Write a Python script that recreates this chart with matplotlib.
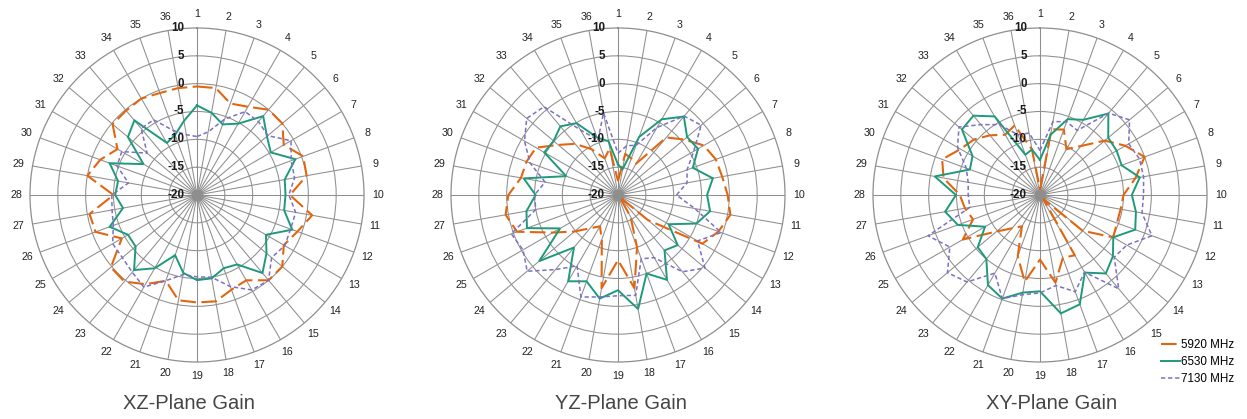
import numpy as np
import matplotlib
matplotlib.use('Agg')
import matplotlib.pyplot as plt
from matplotlib.transforms import offset_copy
from matplotlib.lines import Line2D

plt.rcParams['font.family'] = ['Liberation Sans', 'DejaVu Sans']

# 36 measurement positions, clockwise from the top
positions = list(range(1, 37))
titles = ['XZ-Plane Gain', 'YZ-Plane Gain', 'XY-Plane Gain']
series_names = ['5920 MHz', '6530 MHz', '7130 MHz']

# gain values (dB) per position
xz_5920 = [-0.5, -0.5, -2.5, -1.7, 0, 0, -2, 0.3, 0, -3.3, 1, -0.8, -2, 0, 0, -2.3, -1.9, -0.6,
           -0.7, -0.8, -3.6, -1.5, 0.3, 0.2, -4.4, -0.6, -0.4, -5, 0, -1.5, -3.5, -0.2, -0.2, 0, -0.5, -0.5]
xz_6530 = [-3.9, -5.0, -6.5, -5.2, -1.5, -3.6, -4.7, -1.2, -4.0, -4.1, -4.1, -1.8, -5.7, -3.7, -1.7, -5.6, -6.0, -4.8,
           -4.7, -5.8, -8.5, -4.8, -2.4, -5.6, -5.7, -3.3, -6.5, -5.3, -5.6, -3.3, -8.9, -3.8, -2.5, -9.2, -8.5, -6.5]
xz_7130 = [-9.5, -8.5, -5.5, -2.7, -2.8, -3.4, -0.5, -2.0, -2.2, -3.5, -2.0, -2.1, -1.8, -2.5, 0, -0.3, -2.5, -5.0,
           -5.3, -5.5, -3.6, -0.9, -1.9, -2.5, -2.5, -4.0, -4.5, -4.7, -7.5, -4.7, -4.4, -8.3, -4.4, -4.4, -7.7, -9.0]

yz_5920 = [-17.5, -12.5, -13, -13.5, -6.5, -4.5, -2.2, -1.3, -1, -0.3, 0.5, -0.8, -2.5, -13, -19.5, -15.5, -10, -3,
           -8.3, -3, -11.5, -13.5, -12.2, -9.8, -6.5, -0.7, 0.5, -0.3, -2.3, -2.5, -3, -6, -8, -10.5, -13, -11.5]
yz_6530 = [-14.5, -15.3, -8.9, -4.3, -1.6, -3.8, -3.4, -5.7, -2.7, -4.0, -3.2, -5.0, -9.5, -6.0, -7.0, -2.4, -5.0, 0.8,
           -2.9, -1.1, -3.5, -2.1, -7.7, -1.5, -8.0, -2.6, -3.3, -5.2, -2.8, -10.1, -4.7, -4.9, -3.9, -5.1, -9.0, -10.2]
yz_7130 = [-12.5, -11, -10.5, -6, -1.5, -0.5, -4.3, -6.8, -7.4, -9.5, -6, -0.3, -3.5, 0.4, -2, -7, -7.8, -1.7,
           -1.9, -1.4, -0.5, -5.3, -2.5, 1.3, -0.3, 0.4, -5, -5, -6.7, -3.2, -0.6, 1.4, 0.7, -6.5, -9.5, -5]

xy_5920 = [-19, -8, -7.5, -10.5, -8.5, -4.8, -2.3, 0, -2.6, -5, -5.3, -5.3, -4.8, -10, -19, -7.5, -8, -4,
           -8.4, -4.2, -8.3, -13.5, -12.2, -9.8, -4, -7.2, -6.3, -5.6, -2.4, -1.3, -3.5, -4.5, -6, -7.5, -6.7, -11.7]
xy_6530 = [-13.7, -9.0, -5.5, -4.4, -0.9, -4.0, -4.1, -4.4, -1.8, -3.5, -2.5, -1.8, -4.8, -2.9, -1.6, -3.9, 0.9, 1.6,
           -2.7, -2.2, -0.2, -1.3, -5.0, -5.4, -8.6, -4.3, -2.7, -4.9, -0.8, -6.6, -6.0, -1.7, -1.4, -3.7, -12.3, -11.7]
xy_7130 = [-12, -6.6, -6, -6.6, -0.8, 1, -1.6, -1, -1.1, -1.4, -1.4, 1.4, -2, -2.6, 2, -4, -1.5, -3.5,
           -2.4, -1.8, -0.2, -3.8, 0.4, 1.7, -1.3, 1.4, -7.2, -7.1, -6.9, -5.9, -2.9, -1, -3.5, -5.4, -8.5, -8.7]

r_ticks = [-20, -15, -10, -5, 0, 5, 10]

planes = [
    [xz_5920, xz_6530, xz_7130],
    [yz_5920, yz_6530, yz_7130],
    [xy_5920, xy_6530, xy_7130],
]

#Styles
colors = ['#E2660F', '#1E9A7A', '#7B70C4']
styles = [dict(lw=1.5, dashes=(7.5, 2.6)),
          dict(lw=1.4),
          dict(lw=1.1, dashes=(2.8, 1.8))]
grid_col = '#8e8e8e'

W, H = 1247, 419
fig = plt.figure(figsize=(W / 100, H / 100), dpi=100)

centers = [(197, 195), (618, 195), (1040, 195)]
title_x = [189, 621, 1052]
R = 167

theta = np.deg2rad(np.arange(36) * 10)

for k, (cx, cy) in enumerate(centers):
    ax = fig.add_axes([(cx - R) / W, (H - cy - R) / H, 2 * R / W, 2 * R / H], projection='polar')
    ax.set_theta_zero_location('N')
    ax.set_theta_direction(-1)
    ax.set_ylim(-20, 10)
    ax.set_yticks([-15, -10, -5, 0, 5])
    ax.set_yticklabels([])
    ax.set_xticks(theta)
    ax.set_xticklabels([])
    ax.grid(True, color=grid_col, lw=0.75)
    ax.spines['polar'].set_color(grid_col)
    ax.spines['polar'].set_linewidth(0.9)
    ax.tick_params(length=0)

    # dense hub where all the spokes meet
    hub = np.linspace(0, 2 * np.pi, 120)
    ax.fill_between(hub, -20, -18.9, color='#9c9c9c', lw=0, zorder=1)

    for vals, c, st in zip(planes[k], colors, styles):
        v = np.array(vals + vals[:1])
        t = np.append(theta, theta[0])
        ax.plot(t, v, color=c, solid_joinstyle='miter', zorder=3, **st)

    # radial labels, right aligned left of the vertical spoke
    tr = offset_copy(ax.transData, fig=fig, x=-13, y=0, units='dots')
    for rv in r_ticks:
        ax.text(0, rv, str(rv), transform=tr, ha='right', va='center',
                fontsize=8.4, fontweight='bold', color='#1a1a1a', zorder=10)

    # angle labels
    for p, th in zip(positions, theta):
        ax.text(th, 12.5, str(p), ha='center', va='center', fontsize=7.7,
                color='#222222', clip_on=False)

    fig.text(title_x[k] / W, 1 - 403 / H, titles[k], ha='center', va='center',
             fontsize=14.5, color='#454545')

handles = [Line2D([], [], color=c, **st) for c, st in zip(colors, styles)]
fig.legend(handles, series_names, loc='center left',
           bbox_to_anchor=(1161 / W, 1 - 362 / H), frameon=False,
           fontsize=8.4, handlelength=1.6, handletextpad=0.12, labelspacing=0.42,
           borderpad=0, borderaxespad=0)

fig.savefig('out.png', dpi=100)
